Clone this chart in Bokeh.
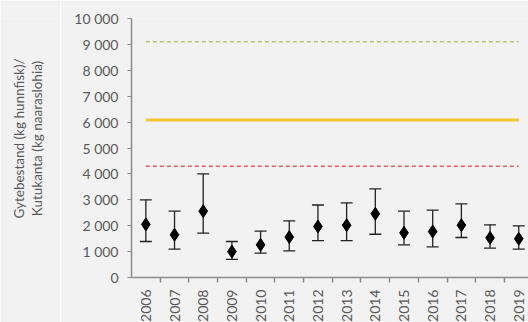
import numpy as np
from bokeh.plotting import figure
from bokeh.layouts import row
from bokeh.models import ColumnDataSource, Whisker, Range1d, FixedTicker
from bokeh.core.properties import value
from bokeh.embed import file_html
from bokeh.resources import INLINE
from math import pi

years = ["2006", "2007", "2008", "2009", "2010", "2011", "2012",
         "2013", "2014", "2015", "2016", "2017", "2018", "2019"]
estimate = [2050, 1650, 2560, 1000, 1260, 1560, 1970, 2020, 2460, 1725, 1775, 2020, 1530, 1495]
upper = [3000, 2560, 4000, 1390, 1790, 2190, 2800, 2880, 3420, 2560, 2600, 2840, 2035, 1995]
lower = [1390, 1095, 1710, 700, 940, 1030, 1420, 1420, 1670, 1260, 1185, 1545, 1135, 1095]
limit_high = 9100
limit_mid = 6080
limit_low = 4300
y_ticks = [0, 1000, 2000, 3000, 4000, 5000, 6000, 7000, 8000, 9000, 10000]
y_title_lines = ["Gytebestand (kg hunnfisk)/", "Kutukanta (kg naaraslohia)"]

idx = list(range(len(years)))
bg = "#f2f2f2"
font = "Lato"
grey = "#595959"
fs = "14px"

# ---- main chart ----
p = figure(frame_width=397, frame_height=259, output_backend="svg",
           toolbar_location=None, x_range=Range1d(-0.5, 13.34),
           y_range=Range1d(0, 10000), min_border_left=71, min_border_right=0,
           min_border_top=18, min_border_bottom=45)
p.background_fill_color = bg
p.border_fill_color = bg
p.outline_line_color = None
p.grid.grid_line_color = None

src = ColumnDataSource(dict(x=idx, y=estimate, upper=upper, lower=lower))
w = Whisker(source=src, base="x", upper="upper", lower="lower",
            line_color="#222222", line_width=1.3)
w.upper_head.size = 12
w.lower_head.size = 12
w.upper_head.line_color = "#222222"
w.lower_head.line_color = "#222222"
w.upper_head.line_width = 1.3
w.lower_head.line_width = 1.3
p.add_layout(w)
p.scatter("x", "y", source=src, marker="diamond", size=13, color="black")

x_ends = [idx[0], idx[-1]]
p.line(x_ends, [limit_high] * 2, line_color="#b3c777", line_width=1.5, line_dash="4 3")
p.line(x_ends, [limit_mid] * 2, line_color="#f5c72e", line_width=3)
p.line(x_ends, [limit_low] * 2, line_color="#e0605c", line_width=1.5, line_dash="4 3")

# y axis
p.yaxis.ticker = FixedTicker(ticks=y_ticks)
p.yaxis.major_label_overrides = {t: f"{t:,}".replace(",", " ") for t in y_ticks}
p.yaxis.major_label_text_font = font
p.yaxis.major_label_text_font_size = fs
p.yaxis.major_label_text_color = grey
p.yaxis.major_label_standoff = 9
p.yaxis.axis_line_color = "#8c8c8c"
p.yaxis.major_tick_line_color = "#8c8c8c"
p.yaxis.major_tick_in = 0
p.yaxis.major_tick_out = 4
p.yaxis.minor_tick_line_color = None
p.yaxis.axis_line_width = 1.5

# x axis
p.xaxis.ticker = FixedTicker(ticks=idx, minor_ticks=[i + 0.5 for i in idx[:-1]])
p.xaxis.major_label_overrides = {i: y for i, y in zip(idx, years)}
p.xaxis.major_label_orientation = pi / 2
p.xaxis.major_label_text_font = font
p.xaxis.major_label_text_font_size = fs
p.xaxis.major_label_text_color = grey
p.xaxis.major_label_standoff = 7
p.xaxis.major_tick_line_color = None
p.xaxis.major_tick_in = 0
p.xaxis.major_tick_out = 0
p.xaxis.minor_tick_in = 0
p.xaxis.minor_tick_out = 5
p.xaxis.minor_tick_line_color = "#8c8c8c"
p.xaxis.minor_tick_line_width = 1.5
p.xaxis.axis_line_color = "#8c8c8c"
p.xaxis.axis_line_width = 1.5

# ---- y-axis title panel ----
t = figure(frame_width=60, frame_height=322, output_backend="svg",
           toolbar_location=None, x_range=Range1d(0, 60), y_range=Range1d(0, 322),
           x_axis_location=None, y_axis_location=None,
           min_border_left=0, min_border_right=0, min_border_top=0, min_border_bottom=0)
t.background_fill_color = bg
t.border_fill_color = bg
t.outline_line_color = None
t.grid.grid_line_color = None
t.text(x=[18, 36], y=[202, 202], text=y_title_lines, angle=pi / 2,
       text_align="center", text_baseline="middle", text_font=value(font),
       text_font_size="13.5px", text_color=grey)

layout = row(t, p, spacing=0)
open("out.html", "w").write(file_html(layout, INLINE))
